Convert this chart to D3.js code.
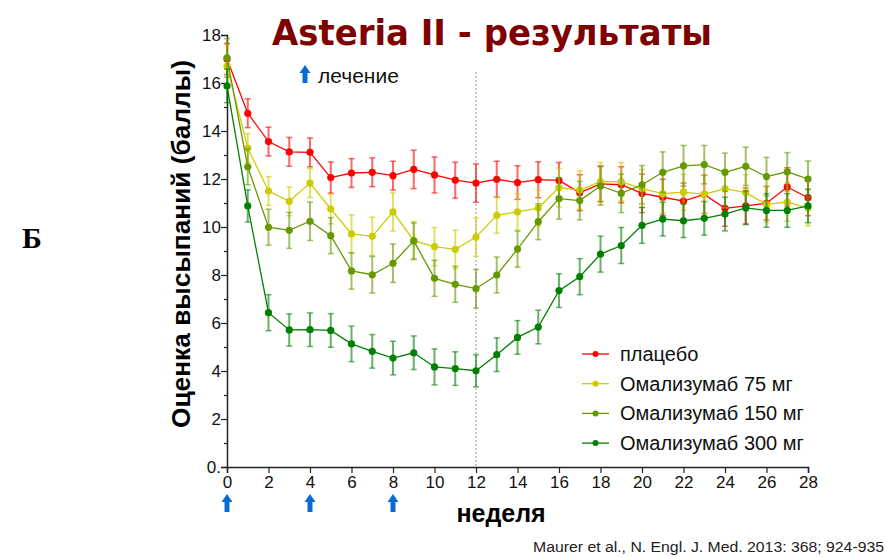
<!DOCTYPE html>
<html>
<head>
<meta charset="utf-8">
<script src="https://cdn.jsdelivr.net/npm/d3@7"></script>
<style>
  body { margin: 0; background: #fff; }
  svg { display: block; }
</style>
</head>
<body>
<div id="chart"></div>
<script>
// data
var weeks = [0,1,2,3,4,5,6,7,8,9,10,11,12,13,14,15,16,17,18,19,20,21,22,23,24,25,26,27,28];

var placebo = [17.0,14.74,13.56,13.13,13.11,12.06,12.25,12.28,12.14,12.4,12.17,11.95,11.83,11.99,11.85,11.97,11.94,11.43,11.8,11.76,11.4,11.24,11.08,11.36,10.78,10.88,10.99,11.67,11.22];
var om75 = [16.7,13.29,11.5,11.07,11.83,10.75,9.71,9.61,10.63,9.43,9.18,9.07,9.58,10.49,10.63,10.79,11.64,11.54,11.89,11.89,11.6,11.39,11.45,11.36,11.6,11.43,10.94,11.04,10.79];
var om150 = [17.05,12.51,9.99,9.86,10.24,9.64,8.17,8.01,8.49,9.42,7.86,7.61,7.43,8.0,9.08,10.22,11.18,11.1,11.71,11.4,11.76,12.28,12.55,12.6,12.28,12.53,12.1,12.3,12.0];
var om300 = [15.88,10.88,6.43,5.71,5.72,5.69,5.13,4.82,4.54,4.76,4.17,4.1,4.01,4.68,5.4,5.83,7.35,7.93,8.87,9.23,10.07,10.33,10.26,10.36,10.54,10.8,10.69,10.69,10.88];

var placeboErr = [0.65,0.6,0.6,0.6,0.6,0.65,0.6,0.6,0.6,0.8,0.75,0.75,0.8,0.75,0.7,0.75,0.75,0.75,0.75,0.75,0.8,0.75,0.75,0.8,0.75,0.75,0.7,0.8,0.75];
var om75Err = [0.9,0.6,0.6,0.6,0.6,0.62,0.8,0.8,0.8,0.8,0.8,0.8,0.8,0.75,0.75,0.75,0.8,0.8,0.8,0.8,0.8,0.8,0.75,0.8,0.8,0.75,0.75,0.8,0.75];
var om150Err = [0.8,0.75,0.75,0.75,0.8,0.75,0.76,0.76,0.8,0.75,0.75,0.75,0.8,0.75,0.75,0.75,0.85,0.8,0.8,0.8,0.8,0.85,0.85,0.8,0.8,0.8,0.8,0.8,0.75];
var om300Err = [0.7,0.67,0.75,0.67,0.7,0.7,0.74,0.7,0.7,0.7,0.75,0.7,0.67,0.7,0.7,0.7,0.7,0.75,0.75,0.75,0.75,0.7,0.7,0.7,0.7,0.7,0.7,0.7,0.7];

var seriesNames = ['плацебо', 'Омализумаб 75 мг', 'Омализумаб 150 мг', 'Омализумаб 300 мг'];
var seriesColors = ['#ff0000', '#cccc00', '#669900', '#008000'];

var xTicks = [0,2,4,6,8,10,12,14,16,18,20,22,24,26,28];
var yTicks = [0,2,4,6,8,10,12,14,16,18];
var yTickLabels = ['0.','2','4','6','8','10','12','14','16','18'];
var yMinorTicks = [1,3,5,7,9,11,13,15,17];
var treatmentWeeks = [0,4,8];
var endOfTreatment = 12;

var W = 887, H = 557;
var font = '"Liberation Sans", Arial, sans-serif';
var svg = d3.select('#chart').append('svg')
	.attr('width', W)
	.attr('height', H);

var x = d3.scaleLinear().domain([0, 28]).range([227, 808]);
var y = d3.scaleLinear().domain([0, 18]).range([467, 35]);

//Title
svg.append('text')
	.attr('x', 272)
	.attr('y', 45)
	.attr('font-family', '"DejaVu Sans", sans-serif')
	.attr('font-size', '36px')
	.attr('font-weight', '700')
	.attr('fill', '#800000')
	.attr('textLength', 440)
	.attr('lengthAdjust', 'spacingAndGlyphs')
	.text('Asteria II - результаты');

//Panel letter
svg.append('text')
	.attr('x', 22)
	.attr('y', 248)
	.attr('font-family', '"Liberation Serif", serif')
	.attr('font-size', '30px')
	.attr('font-weight', '700')
	.text('Б');

//Vertical dashed line at end of treatment
svg.append('line')
	.attr('x1', x(endOfTreatment)).attr('x2', x(endOfTreatment))
	.attr('y1', 72).attr('y2', y(0))
	.attr('stroke', '#999')
	.attr('stroke-width', 1)
	.attr('stroke-dasharray', '2,2');

//Axes
var yAxis = d3.axisLeft(y)
	.tickValues(yTicks)
	.tickSize(6)
	.tickFormat(function(d, i) { return yTickLabels[i]; });
var yAxisG = svg.append('g')
	.attr('transform', 'translate(' + x(0) + ',0)')
	.call(yAxis);
svg.append('g')
	.attr('transform', 'translate(' + x(0) + ',0)')
	.call(d3.axisLeft(y).tickValues(yMinorTicks).tickSize(3).tickFormat(''))
	.select('.domain').remove();

var xAxis = d3.axisBottom(x).tickValues(xTicks).tickSize(6).tickFormat(d3.format('d'));
var xAxisG = svg.append('g')
	.attr('transform', 'translate(0,' + y(0) + ')')
	.call(xAxis);

svg.selectAll('.domain').attr('stroke', '#222').attr('stroke-width', 1.5);
svg.selectAll('.tick line').attr('stroke', '#222').attr('stroke-width', 1.2);
svg.selectAll('.tick text')
	.attr('font-family', font)
	.attr('font-size', '17px')
	.attr('fill', '#111');
yAxisG.selectAll('.tick text').attr('x', -6);
xAxisG.selectAll('.tick text').attr('y', 9);

//Axis titles
svg.append('text')
	.attr('transform', 'translate(190,244) rotate(-90)')
	.attr('text-anchor', 'middle')
	.attr('font-family', font)
	.attr('font-size', '25px')
	.attr('font-weight', '700')
	.attr('textLength', 368)
	.attr('lengthAdjust', 'spacingAndGlyphs')
	.text('Оценка высыпаний (баллы)');

svg.append('text')
	.attr('x', 501)
	.attr('y', 522)
	.attr('text-anchor', 'middle')
	.attr('font-family', font)
	.attr('font-size', '25px')
	.attr('font-weight', '700')
	.text('неделя');

//Blue treatment arrows
function arrow(g, cx, top) {
	g.append('path')
		.attr('d', 'M' + cx + ',' + top +
			' l5.5,8 l-3,0 l0,10 l-5,0 l0,-10 l-3,0 z')
		.attr('fill', '#0a6ad4');
}
treatmentWeeks.forEach(function(w) {
	arrow(svg, x(w), 494);
});
arrow(svg, 305, 65);
svg.append('text')
	.attr('x', 318)
	.attr('y', 83)
	.attr('font-family', font)
	.attr('font-size', '21px')
	.attr('fill', '#111')
	.text('лечение');

//Series
var allSeries = [
	{ name: seriesNames[0], values: placebo, err: placeboErr, color: seriesColors[0] },
	{ name: seriesNames[1], values: om75, err: om75Err, color: seriesColors[1] },
	{ name: seriesNames[2], values: om150, err: om150Err, color: seriesColors[2] },
	{ name: seriesNames[3], values: om300, err: om300Err, color: seriesColors[3] }
];

var line = d3.line()
	.x(function(d) { return x(d.w); })
	.y(function(d) { return y(d.v); });

allSeries.forEach(function(s) {
	var pts = weeks.map(function(w, i) { return { w: w, v: s.values[i], e: s.err[i] }; });
	var g = svg.append('g');

	var eb = g.selectAll('g.err').data(pts).enter().append('g').attr('class', 'err');
	eb.append('line')
		.attr('x1', function(d) { return x(d.w); })
		.attr('x2', function(d) { return x(d.w); })
		.attr('y1', function(d) { return y(d.v - d.e); })
		.attr('y2', function(d) { return y(d.v + d.e); })
		.attr('stroke', s.color).attr('stroke-opacity', 0.6).attr('stroke-width', 2);
	eb.append('line')
		.attr('x1', function(d) { return x(d.w) - 3; })
		.attr('x2', function(d) { return x(d.w) + 3; })
		.attr('y1', function(d) { return y(d.v + d.e); })
		.attr('y2', function(d) { return y(d.v + d.e); })
		.attr('stroke', s.color).attr('stroke-opacity', 0.6).attr('stroke-width', 1.5);
	eb.append('line')
		.attr('x1', function(d) { return x(d.w) - 3; })
		.attr('x2', function(d) { return x(d.w) + 3; })
		.attr('y1', function(d) { return y(d.v - d.e); })
		.attr('y2', function(d) { return y(d.v - d.e); })
		.attr('stroke', s.color).attr('stroke-opacity', 0.6).attr('stroke-width', 1.5);

	g.append('path')
		.datum(pts)
		.attr('d', line)
		.attr('fill', 'none')
		.attr('stroke', s.color)
		.attr('stroke-width', 1.3);

	g.selectAll('circle').data(pts).enter().append('circle')
		.attr('cx', function(d) { return x(d.w); })
		.attr('cy', function(d) { return y(d.v); })
		.attr('r', 3.6)
		.attr('fill', s.color);
});

//Legend
var legend = svg.append('g').attr('transform', 'translate(582,354)');
allSeries.forEach(function(s, i) {
	var row = legend.append('g').attr('transform', 'translate(0,' + (i * 29.7) + ')');
	row.append('line')
		.attr('x1', 0).attr('x2', 27).attr('y1', 0).attr('y2', 0)
		.attr('stroke', s.color).attr('stroke-width', 1.3);
	row.append('circle').attr('cx', 13.5).attr('cy', 0).attr('r', 3).attr('fill', s.color);
	row.append('text')
		.attr('x', 38)
		.attr('y', 7)
		.attr('font-family', font)
		.attr('font-size', '20px')
		.attr('fill', '#111')
		.text(s.name);
});

//Citation
svg.append('text')
	.attr('x', 533)
	.attr('y', 552)
	.attr('font-family', font)
	.attr('font-size', '14px')
	.attr('fill', '#222')
	.attr('textLength', 351)
	.attr('lengthAdjust', 'spacingAndGlyphs')
	.text('Maurer et al., N. Engl. J. Med. 2013: 368; 924-935');
</script>
</body>
</html>
